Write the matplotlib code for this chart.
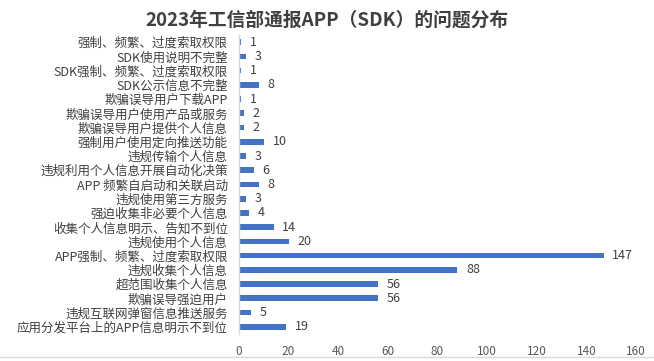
import matplotlib
matplotlib.use("Agg")
import matplotlib.pyplot as plt

plt.rcParams['font.family'] = ['Noto Sans CJK SC', 'DejaVu Sans']

categories = [
    "强制、频繁、过度索取权限",
    "SDK使用说明不完整",
    "SDK强制、频繁、过度索取权限",
    "SDK公示信息不完整",
    "欺骗误导用户下载APP",
    "欺骗误导用户使用产品或服务",
    "欺骗误导用户提供个人信息",
    "强制用户使用定向推送功能",
    "违规传输个人信息",
    "违规利用个人信息开展自动化决策",
    "APP 频繁自启动和关联启动",
    "违规使用第三方服务",
    "强迫收集非必要个人信息",
    "收集个人信息明示、告知不到位",
    "违规使用个人信息",
    "APP强制、频繁、过度索取权限",
    "违规收集个人信息",
    "超范围收集个人信息",
    "欺骗误导强迫用户",
    "违规互联网弹窗信息推送服务",
    "应用分发平台上的APP信息明示不到位",
]
values = [1, 3, 1, 8, 1, 2, 2, 10, 3, 6, 8, 3, 4, 14, 20, 147, 88, 56, 56, 5, 19]
xticks = [0, 20, 40, 60, 80, 100, 120, 140, 160]
title = "2023年工信部通报APP（SDK）的问题分布"

fig = plt.figure(figsize=(6.54, 3.61), dpi=100)
ax = fig.add_axes([0.3654, 0.075, 0.607, 0.828])

pos = list(range(len(categories)))
ax.barh(pos, values, height=0.4, color="#4472C4")
for p, v in zip(pos, values):
    ax.text(v + 3.5, p, str(v), va="center", ha="left", fontsize=9, color="#404040")

ax.set_ylim(len(categories) - 0.5, -0.5)
ax.set_xlim(0, 160)
ax.set_xticks(xticks)
ax.set_xticklabels([str(t) for t in xticks])
ax.set_yticks(pos)
ax.set_yticklabels(categories)
ax.tick_params(axis='x', length=0, pad=8, labelsize=8.5, labelcolor="#595959")
ax.tick_params(axis='y', length=0, pad=8, labelsize=9, labelcolor="#404040")
for s in ["top", "right", "bottom"]:
    ax.spines[s].set_visible(False)
ax.spines["left"].set_color("#D0D8E8")
ax.spines["left"].set_linewidth(1.0)

fig.text(0.5, 0.945, title, ha="center", va="center", fontsize=13.5,
         fontweight="bold", color="#404040")
fig.add_artist(plt.Line2D([0, 1], [0.01, 0.01], color="#D9D9D9", lw=1,
                          transform=fig.transFigure))

fig.savefig("out.png", dpi=100)
